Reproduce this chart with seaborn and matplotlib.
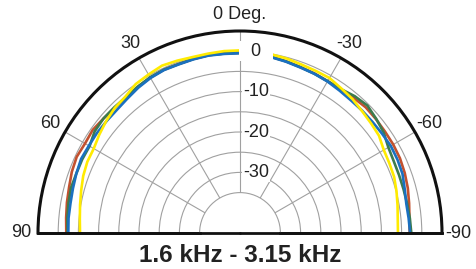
import matplotlib

matplotlib.use("Agg")
import matplotlib.pyplot as plt
import matplotlib.transforms as mtransforms
import numpy as np
import pandas as pd
import seaborn as sns


# measurement angles, degrees (positive = left of the axis)
ANGLES = [-90, -85, -80, -75, -70, -65, -60, -55, -50, -45, -40, -35, -30, -25, -20, -15, -10, -5,
          0, 5, 10, 15, 20, 25, 30, 35, 40, 45, 50, 55, 60, 65, 70, 75, 80, 85, 90]

# normalised level, dB
RED = [-3.0, -2.9, -2.5, -2.0, -1.6, -1.3, -1.2, -1.2, -1.1, -1.0, -1.3, -1.6, -1.6, -1.4, -1.3, -1.0, -0.7, -0.6,
       -0.4, -0.4, -0.3, -0.4, -0.5, -0.4, -0.6, -0.9, -1.2, -1.2, -0.9, -0.5, -0.7, -0.4, -0.7, -1.2, -1.5, -1.8, -2.0]
GREEN = [-2.6, -2.8, -3.0, -3.1, -3.1, -3.0, -2.6, -1.6, -1.0, -0.4, -0.8, -1.5, -1.6, -1.5, -1.3, -1.0, -0.7, -0.6,
         -0.4, -0.4, -0.3, -0.4, -0.5, -0.4, -0.5, -0.8, -1.1, -1.0, -0.9, -1.1, -2.0, -1.9, -1.9, -1.7, -1.9, -2.1, -2.3]
BLUE = [-2.9, -3.1, -3.2, -2.8, -2.2, -2.0, -1.9, -2.1, -2.2, -2.2, -2.2, -2.0, -1.7, -1.5, -1.4, -1.1, -0.8, -0.7,
        -0.5, -0.5, -0.4, -0.5, -0.6, -0.5, -0.7, -1.1, -1.6, -1.9, -1.9, -1.8, -1.8, -1.6, -1.9, -2.2, -2.4, -2.4, -2.5]
YELLOW = [-5.9, -5.8, -5.4, -4.9, -4.4, -4.2, -3.9, -3.0, -2.7, -2.3, -1.7, -1.3, -0.7, -0.7, -0.6, -0.3, -0.1, 0.0,
          0.2, 0.2, 0.1, 0.1, 0.4, 0.7, 0.3, 0.0, -0.9, -1.2, -1.8, -2.5, -3.2, -3.3, -3.7, -4.3, -4.8, -5.2, -5.4]

SERIES = ["red", "green", "blue", "yellow"]
COLORS = {"red": "#c2512f", "green": "#3c7b4e", "blue": "#1a70c0", "yellow": "#ffeb00"}

THETA_TICKS = [-90, -60, -30, 0, 30, 60, 90]
THETA_LABELS = ["-90", "-60", "-30", "0 Deg.", "30", "60", "90"]
R_GRID = [-30, -25, -20, -15, -10, -5, 0]
R_LABELS = [0, -10, -20, -30]
TITLE = "1.6 kHz - 3.15 kHz"


def main():
    sns.set_theme(style="white")
    plt.rcParams["font.family"] = ["Liberation Sans", "DejaVu Sans"]

    df = pd.concat(
        [
            pd.DataFrame({"angle": ANGLES, "level": vals, "series": name})
            for name, vals in zip(SERIES, [RED, GREEN, BLUE, YELLOW])
        ],
        ignore_index=True,
    )
    df["theta"] = np.deg2rad(df["angle"])

    fig = plt.figure(figsize=(4.77, 2.69), dpi=100, facecolor="white")
    # polar wedge is padded to a square, so the half disc sits in the middle band of a square box
    ax = fig.add_axes([38 / 477, -65 / 269, 404 / 477, 404 / 269], projection="polar")
    ax.set_theta_zero_location("N")
    ax.set_theta_direction(1)
    ax.set_thetamin(-90)
    ax.set_thetamax(90)

    sns.lineplot(
        data=df, x="theta", y="level", hue="series", hue_order=SERIES, palette=COLORS,
        estimator=None, linewidth=1.9, legend=False, ax=ax,
    )
    ax.set_xlabel("")
    ax.set_ylabel("")

    ax.set_rlim(-35, 5)
    ax.set_rorigin(-45)
    ax.set_yticks(R_GRID)
    ax.set_yticklabels([])
    ax.set_xticks(np.deg2rad(THETA_TICKS))
    ax.set_xticklabels(THETA_LABELS, fontsize=13, color="#222222")
    ax.tick_params(axis="x", pad=-1)
    ax.grid(True, color="#a0a0a0", linewidth=0.8)

    ax.spines["polar"].set_color("#111111")
    ax.spines["polar"].set_linewidth(2.2)
    ax.spines["start"].set_color("#111111")
    ax.spines["start"].set_linewidth(2.0)
    ax.spines["end"].set_color("#111111")
    ax.spines["end"].set_linewidth(2.0)
    ax.spines["inner"].set_color("#a0a0a0")
    ax.spines["inner"].set_linewidth(0.8)

    # baseline continues across the centre hole
    ax.plot(np.deg2rad([90, 90]), [5, -45], color="#111111", lw=2.0, clip_on=False, zorder=3)
    ax.plot(np.deg2rad([-90, -90]), [5, -45], color="#111111", lw=2.0, clip_on=False, zorder=3)

    offs = mtransforms.offset_copy(ax.transData, fig=fig, x=16, y=0, units="dots")
    for r in R_LABELS:
        lab = "\u2007%d\u2007" % r if r == 0 else "%d" % r
        ax.text(0, r, lab, transform=offs, ha="center", va="center", fontsize=13, color="#222222",
                bbox=dict(boxstyle="square,pad=0.08", fc="white", ec="none"), zorder=5)

    fig.text(240 / 477, 13 / 269, TITLE, ha="center", va="center", fontsize=17.5, fontweight="bold",
             color="#222222")

    fig.savefig("out.png", dpi=100, facecolor="white")
    plt.close(fig)


if __name__ == "__main__":
    main()
